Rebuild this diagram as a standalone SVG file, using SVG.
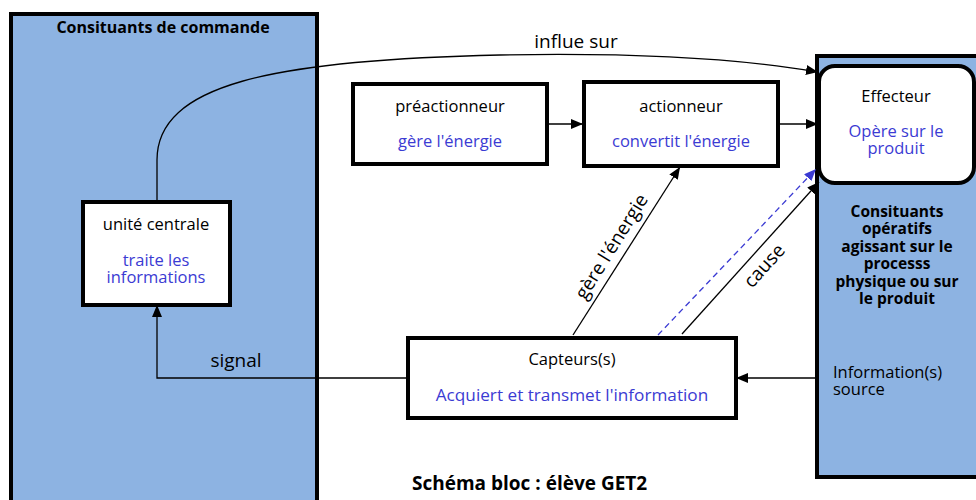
<svg xmlns="http://www.w3.org/2000/svg" width="976" height="500" viewBox="0 0 976 500">
<defs>
<style>
text{font-family:"Open Sans","Noto Sans","Liberation Sans",sans-serif;fill:#000}
.t{font-size:16.5px;text-anchor:middle}
.b{fill:#3B3BD3}
.bold{font-weight:bold}
.panel{fill:#8DB3E2;stroke:#000;stroke-width:4}
.box{fill:#fff;stroke:#000;stroke-width:4}
.c{fill:none;stroke:#000;stroke-width:1.3}
.lab{font-size:19px}
</style>
<marker id="ah" viewBox="0 0 12 10" refX="12" refY="5" markerWidth="12" markerHeight="10" markerUnits="userSpaceOnUse" orient="auto">
<path d="M0,0 L12,5 L0,10 Z" fill="#000"/>
</marker>
<marker id="ahb" viewBox="0 0 12 10" refX="12" refY="5" markerWidth="12" markerHeight="10" markerUnits="userSpaceOnUse" orient="auto">
<path d="M0,0 L12,5 L0,10 Z" fill="#3B3BD3"/>
</marker>
</defs>
<rect width="976" height="500" fill="#fff"/>
<g id="commande">
<rect class="panel" x="11" y="14" width="306" height="500"/>
<text class="bold" x="163" y="33" font-size="16" text-anchor="middle">Consituants de commande</text>
</g>
<g id="operatifs">
<rect class="panel" x="817" y="56" width="170" height="421"/>
<text class="bold" font-size="15.5" text-anchor="middle"><tspan x="897" y="217">Consituants</tspan><tspan x="897" y="234">opératifs</tspan><tspan x="897" y="252">agissant sur le</tspan><tspan x="897" y="269">processs</tspan><tspan x="897" y="287">physique ou sur</tspan><tspan x="897" y="304">le produit</tspan></text>
<text font-size="16.5"><tspan x="833" y="378">Information(s)</tspan><tspan x="833" y="395">source</tspan></text>
</g>
<g id="connectors">
<path class="c" d="M157,201 V160 C157,85 270,60 500,55 C660,52 760,62 818,72" marker-end="url(#ah)"/>
<path class="c" d="M547,124 H583" marker-end="url(#ah)"/>
<path class="c" d="M778,124 H818" marker-end="url(#ah)"/>
<path class="c" d="M573,335 L680,167" marker-end="url(#ah)"/>
<path class="c" d="M682,334 L819,182" marker-end="url(#ah)"/>
<path d="M658,335 L816,169" fill="none" stroke="#3B3BD3" stroke-width="1.3" stroke-dasharray="6,4" marker-end="url(#ahb)"/>
<path class="c" d="M817,378 H736" marker-end="url(#ah)"/>
<path class="c" d="M407,378 H157 V305" marker-end="url(#ah)"/>
<text class="lab" x="576" y="48" text-anchor="middle">influe sur</text>
<text class="lab" x="236" y="367" text-anchor="middle">signal</text>
<text class="lab" text-anchor="middle" transform="translate(617,250) rotate(-58)">gère l'énergie</text>
<text class="lab" text-anchor="middle" transform="translate(769,270) rotate(-48)">cause</text>
</g>
<g id="unite">
<rect class="box" x="83" y="202" width="147" height="103"/>
<text class="t" x="156" y="230">unité centrale</text>
<text class="t b"><tspan x="156" y="266">traite les</tspan><tspan x="156" y="283">informations</tspan></text>
</g>
<g id="preactionneur">
<rect class="box" x="353" y="84" width="194" height="80"/>
<text class="t" x="450" y="112">préactionneur</text>
<text class="t b" x="450" y="147">gère l'énergie</text>
</g>
<g id="actionneur">
<rect class="box" x="584" y="82" width="194" height="84"/>
<text class="t" x="681" y="112">actionneur</text>
<text class="t b" x="681" y="147">convertit l'énergie</text>
</g>
<g id="effecteur">
<rect class="box" x="819" y="66" width="155" height="117" rx="16"/>
<text class="t" x="896" y="102">Effecteur</text>
<text class="t b"><tspan x="896" y="137">Opère sur le</tspan><tspan x="896" y="154">produit</tspan></text>
</g>
<g id="capteurs">
<rect class="box" x="408" y="338" width="328" height="80"/>
<text class="t" x="572" y="365">Capteurs(s)</text>
<text class="t b" x="572" y="401" style="font-size:17.2px">Acquiert et transmet l'information</text>
</g>
<text class="bold" x="412" y="490" font-size="19">Schéma bloc : élève GET2</text>
</svg>
